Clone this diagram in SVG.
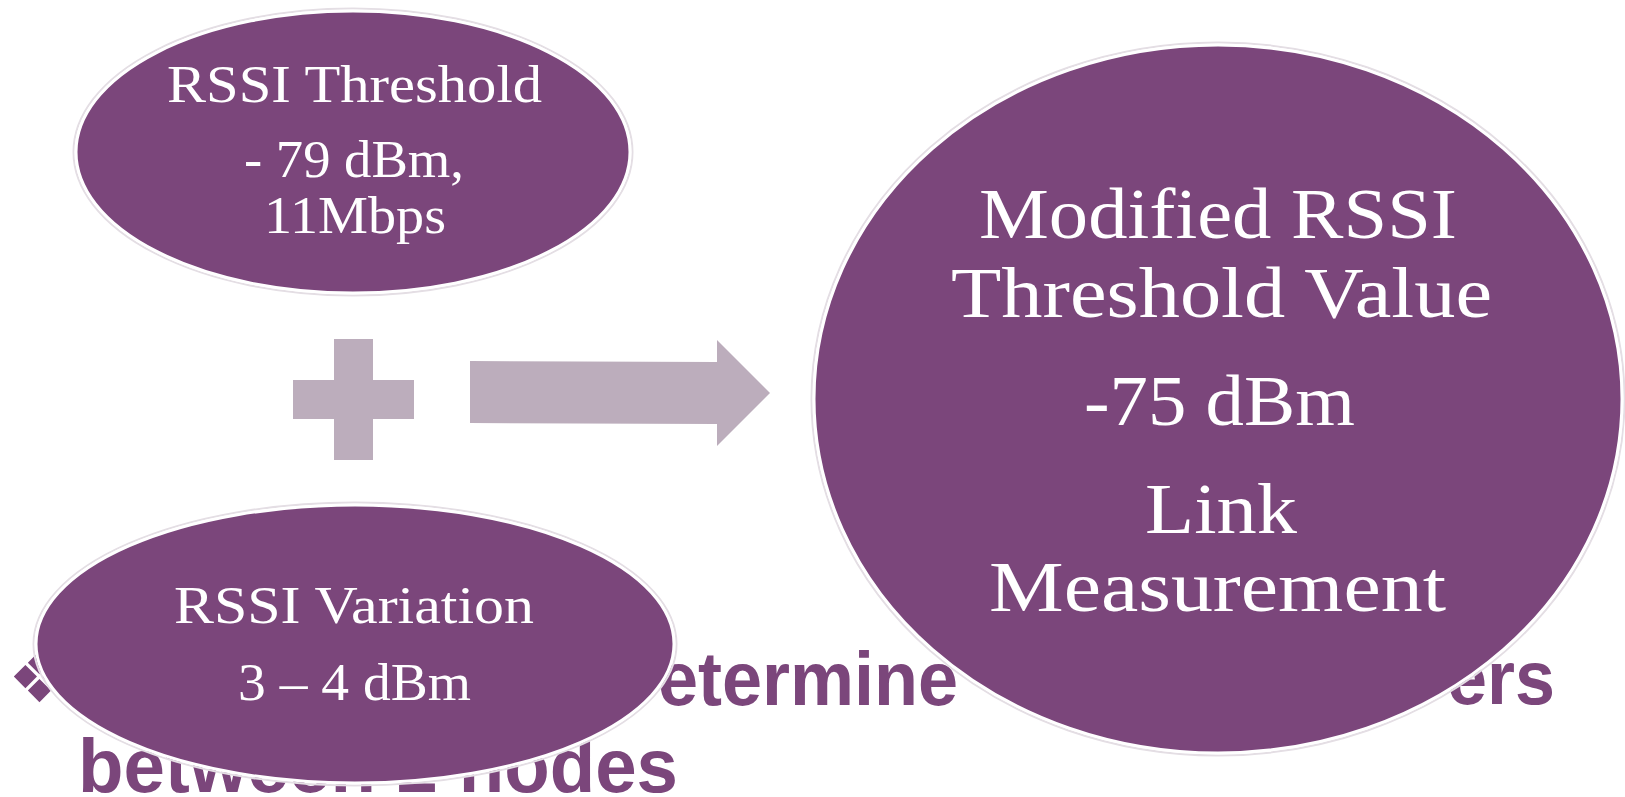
<svg xmlns="http://www.w3.org/2000/svg" width="1625" height="797" viewBox="0 0 1625 797">
<style>
.bg{font-family:"Liberation Sans",Arial,sans-serif;font-weight:bold;font-size:76px;fill:#7B467B}
.node{fill:#7B467B;stroke:#ffffff;stroke-width:3}
.halo{fill:none;stroke:#e4dee4;stroke-width:2}
.lbl{font-family:"Liberation Serif","Times New Roman",serif;fill:#ffffff}
.s{font-size:52px}
.b{font-size:72px}
.shape{fill:#BCADBC}
</style>
<rect width="1625" height="797" fill="#ffffff"/>
<g id="background-text">
<text class="bg" x="8" y="702" style="font-family:'DejaVu Sans',sans-serif;font-weight:normal;font-size:70px">❖</text>
<text class="bg" x="658" y="705" textLength="300" lengthAdjust="spacingAndGlyphs">etermine</text>
<text class="bg" x="1447" y="704" textLength="108" lengthAdjust="spacingAndGlyphs">ers</text>
<text class="bg" x="78" y="792" textLength="600" lengthAdjust="spacingAndGlyphs">between 2 nodes</text>
</g>
<g id="connectors">
<polygon id="plus" class="shape" points="334,339 373,339 373,380 414,380 414,419 373,419 373,460 334,460 334,419 293,419 293,380 334,380"/>
<polygon id="arrow" class="shape" points="470,361 717,362 717,340 770,393 717,446 717,424 470,423"/>
</g>
<g id="node-threshold">
<ellipse class="halo" cx="353" cy="152" rx="279.5" ry="143.5"/>
<ellipse class="node" cx="353" cy="152" rx="277" ry="141"/>
<text class="lbl s" x="167" y="102" textLength="375" lengthAdjust="spacingAndGlyphs">RSSI Threshold</text>
<text class="lbl s" x="244" y="177" textLength="220" lengthAdjust="spacingAndGlyphs">- 79 dBm,</text>
<text class="lbl s" x="264" y="233" textLength="182" lengthAdjust="spacingAndGlyphs">11Mbps</text>
</g>
<g id="node-variation">
<ellipse class="halo" cx="355" cy="644" rx="321.5" ry="141.5"/>
<ellipse class="node" cx="355" cy="644" rx="319" ry="139"/>
<text class="lbl s" x="174" y="623" textLength="360" lengthAdjust="spacingAndGlyphs">RSSI Variation</text>
<text class="lbl s" x="238" y="700" textLength="233" lengthAdjust="spacingAndGlyphs">3 – 4 dBm</text>
</g>
<g id="node-modified">
<ellipse class="halo" cx="1218" cy="399" rx="406.5" ry="356.5"/>
<ellipse class="node" cx="1218" cy="399" rx="404" ry="354"/>
<text class="lbl b" x="979" y="238" textLength="478" lengthAdjust="spacingAndGlyphs">Modified RSSI</text>
<text class="lbl b" x="951" y="317" textLength="541" lengthAdjust="spacingAndGlyphs">Threshold Value</text>
<text class="lbl b" x="1084" y="425" textLength="271" lengthAdjust="spacingAndGlyphs">-75 dBm</text>
<text class="lbl b" x="1145" y="533" textLength="152" lengthAdjust="spacingAndGlyphs">Link</text>
<text class="lbl b" x="989" y="611" textLength="457" lengthAdjust="spacingAndGlyphs">Measurement</text>
</g>
</svg>
